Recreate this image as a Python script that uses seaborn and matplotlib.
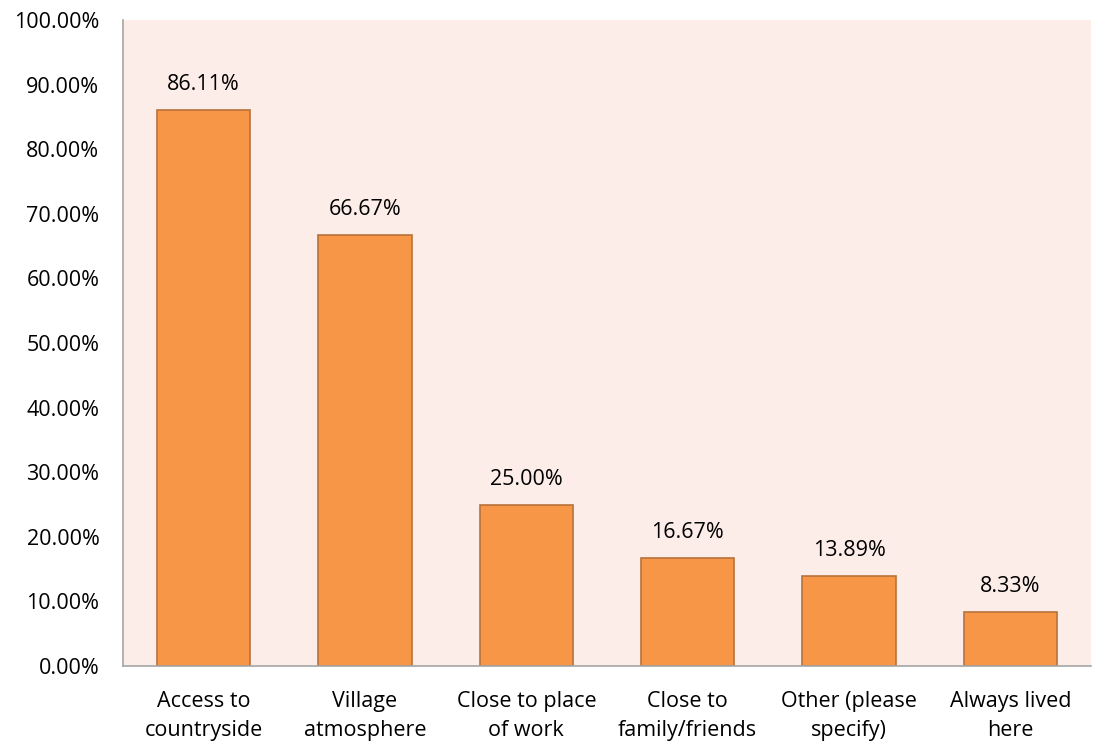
import matplotlib
matplotlib.use("Agg")
import matplotlib.pyplot as plt
import seaborn as sns
import pandas as pd

categories = ["Access to\ncountryside", "Village\natmosphere", "Close to place\nof work",
              "Close to\nfamily/friends", "Other (please\nspecify)", "Always lived\nhere"]
values = [86.11, 66.67, 25.00, 16.67, 13.89, 8.33]
yticks = [0, 10, 20, 30, 40, 50, 60, 70, 80, 90, 100]

sns.set_style("white")
plt.rcParams['font.family'] = ['Open Sans', 'DejaVu Sans']
plt.rcParams['text.color'] = '#000000'

df = pd.DataFrame({"cat": categories, "val": values})

fig = plt.figure(figsize=(10.96, 7.46), dpi=100)
ax = fig.add_axes([123/1096, 80/746, (1091-123)/1096, (666-20)/746])
ax.set_facecolor("#FCEDE8")

sns.barplot(data=df, x="cat", y="val", color="#F79646", saturation=1, width=0.58,
            edgecolor="#B8733A", linewidth=1.2, ax=ax)

for i, v in enumerate(values):
    ax.text(i, v + 2.3, f"{v:.2f}%", ha="center", va="bottom", fontsize=15.5, color="#000000")

ax.set_ylim(0, 100)
ax.set_xlim(-0.5, len(categories) - 0.5)
ax.set_yticks(yticks)
ax.set_yticklabels([f"{t:.2f}%" for t in yticks], fontsize=15.5, color="#000000")
ax.set_xticks(range(len(categories)))
ax.set_xticklabels(categories, fontsize=15.5, color="#000000", linespacing=1.5)
ax.tick_params(axis="x", length=0, pad=18)
ax.tick_params(axis="y", length=0, pad=17)
ax.set_xlabel("")
ax.set_ylabel("")
for s in ["top", "right"]:
    ax.spines[s].set_visible(False)
ax.spines["left"].set_color("#A6A6A6")
ax.spines["bottom"].set_color("#A6A6A6")
ax.spines["left"].set_linewidth(1.2)
ax.spines["bottom"].set_linewidth(1.2)

fig.savefig("out.png", dpi=100)
